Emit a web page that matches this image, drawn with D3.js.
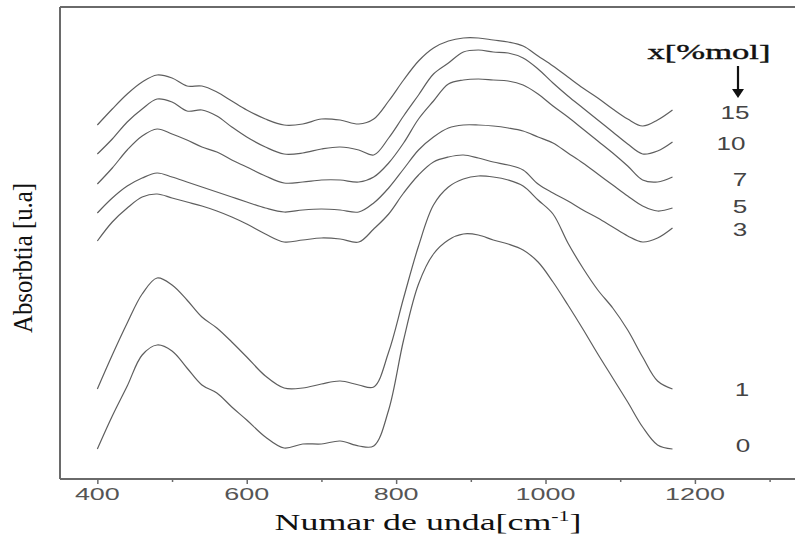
<!DOCTYPE html>
<html>
<head>
<meta charset="utf-8">
<script src="https://cdn.jsdelivr.net/npm/d3@7"></script>
<style>
html,body{margin:0;padding:0;background:#fff;}
svg{display:block;}
</style>
</head>
<body>
<svg id="chart" width="795" height="538"></svg>
<script>
// ---- data (absorbance, arbitrary units, offset-stacked as in the figure) ----
const wavenumbers = [400,420,440,460,480,500,520,540,560,580,600,625,650,675,700,725,750,770,790,810,830,850,870,890,910,930,950,970,990,1010,1030,1050,1070,1090,1110,1130,1150,1170];
const s15 = [354,370,385,397,404,401,393,393,387,378,369,360,354,355,360,359,355,360,378,399,418,431,438,441,441,439,437,433,423,413,402,391,381,370,360,353,359,369];
const s10 = [325,340,357,370,380,377,368,369,363,352,342,332,325,326,330,332,329,324,341,363,384,405,416,427,429,427,426,421,410,396,383,371,359,347,335,325,328,337];
const s7  = [295,311,329,343,350,345,339,332,327,319,312,303,296,297,299,299,297,302,316,336,360,378,395,399,400,399,398,394,385,373,362,350,338,326,313,299,297,302];
const s5  = [266,281,293,301,306,302,297,292,287,282,277,271,267,269,270,269,267,276,291,310,329,342,351,354,354,353,351,348,342,336,326,316,305,294,283,273,268,271];
const s3  = [238,257,271,282,285,281,277,273,268,262,255,245,237,239,241,240,237,250,265,286,304,317,322,324,321,317,314,309,295,286,278,269,261,252,243,237,241,251];
const s1  = [90,124,156,185,201,194,179,162,151,137,122,103,91,91,95,98,94,92,127,181,233,274,292,300,303,302,299,293,279,265,236,211,189,171,149,122,98,90];
const s0  = [30,63,93,124,134,128,111,94,86,72,59,42,31,35,35,38,33,33,69,139,195,225,239,245,244,239,235,229,217,197,174,150,125,101,77,52,34,30];
const seriesNames = ["15","10","7","5","3","1","0"];
const seriesValues = [s15,s10,s7,s5,s3,s1,s0];
const majorTicks = [400,600,800,1000,1200];
const minorTicks = [500,700,900,1100,1300];
const xTitle = "Numar de unda[cm";
const xTitleSup = "-1";
const yTitle = "Absorbtia [u.a]";
const legendTitle = "x[%mol]";

(function draw() {
  const svg = d3.select("#chart");
  const mL = 60, mR = 795, mT = 7, mB = 479;
  const x = d3.scaleLinear().domain([350, 1334]).range([mL, mR]);
  const y = d3.scaleLinear().domain([0, 472]).range([mB, mT]);
  const axisColor = "#6a6a6a";

  function stretch(sel, cx, cy, targetW) {
    sel.each(function() {
      const w = this.getComputedTextLength();
      const k = targetW / w;
      d3.select(this).attr("transform", `translate(${cx},${cy}) scale(${k},1)`);
    });
  }

  // frame
  svg.append("line").attr("x1", mL).attr("x2", mR).attr("y1", mT).attr("y2", mT)
    .attr("stroke", axisColor).attr("stroke-width", 2);
  svg.append("line").attr("x1", mL).attr("x2", mL).attr("y1", mT).attr("y2", mB)
    .attr("stroke", axisColor).attr("stroke-width", 2);
  svg.append("line").attr("x1", mL).attr("x2", mR).attr("y1", mB).attr("y2", mB)
    .attr("stroke", axisColor).attr("stroke-width", 2);

  // ticks
  const gMajor = svg.append("g").attr("transform", `translate(0,${mB})`)
    .call(d3.axisBottom(x).tickValues(majorTicks).tickSize(5).tickFormat(""));
  const gMinor = svg.append("g").attr("transform", `translate(0,${mB})`)
    .call(d3.axisBottom(x).tickValues(minorTicks).tickSize(3).tickFormat(""));
  [gMajor, gMinor].forEach(g => {
    g.select(".domain").remove();
    g.selectAll(".tick line").attr("stroke", axisColor).attr("stroke-width", 1.5);
  });

  // tick labels
  majorTicks.forEach(t => {
    const txt = svg.append("text").text(t)
      .attr("font-family", "Liberation Sans, Arial, sans-serif")
      .attr("font-size", 17).attr("fill", "#555").attr("text-anchor", "middle");
    stretch(txt, x(t), 500, String(t).length * 15);
  });

  // curves
  const line = d3.line()
    .x((d, i) => x(wavenumbers[i]))
    .y(d => y(d))
    .curve(d3.curveCatmullRom.alpha(0.5));
  svg.append("g").selectAll("path").data(seriesValues).join("path")
    .attr("d", line)
    .attr("fill", "none")
    .attr("stroke", "#5e5e5e")
    .attr("stroke-width", 1.2);

  // series labels
  const labelPos = {"15":[735,119],"10":[731,150],"7":[740,186],"5":[740,213],"3":[740,236],"1":[742,396],"0":[743,452]};
  seriesNames.forEach(n => {
    const txt = svg.append("text").text(n)
      .attr("font-family", "Liberation Sans, Arial, sans-serif")
      .attr("font-size", 18).attr("fill", "#444").attr("text-anchor", "middle");
    stretch(txt, labelPos[n][0], labelPos[n][1], n.length * 14.5);
  });

  // legend title + arrow
  const lt = svg.append("text").text(legendTitle)
    .attr("font-family", "Liberation Serif, Times New Roman, serif")
    .attr("font-size", 22).attr("fill", "#111").attr("text-anchor", "middle")
    .attr("stroke", "#111").attr("stroke-width", 0.4);
  stretch(lt, 709, 59, 123);
  svg.append("line").attr("x1", 738).attr("x2", 738).attr("y1", 66).attr("y2", 90)
    .attr("stroke", "#111").attr("stroke-width", 2.2);
  svg.append("path").attr("d", "M732,89 L744,89 L738,98 Z").attr("fill", "#111");

  // x title
  const xt = svg.append("text")
    .attr("font-family", "Liberation Serif, Times New Roman, serif")
    .attr("font-size", 23).attr("fill", "#111").attr("text-anchor", "middle");
  xt.append("tspan").text(xTitle);
  xt.append("tspan").text(xTitleSup).attr("font-size", 14).attr("dy", -9);
  xt.append("tspan").text("]").attr("dy", 9);
  stretch(xt, 428, 530, 307);

  // y title (rotated)
  const yt = svg.append("text").text(yTitle)
    .attr("font-family", "Liberation Serif, Times New Roman, serif")
    .attr("font-size", 22).attr("fill", "#111").attr("text-anchor", "middle");
  const w = yt.node().getComputedTextLength();
  yt.attr("font-size", 22 * 150 / w);
  yt.attr("transform", `translate(32,258) scale(1.1,1) rotate(-90)`);
})();
</script>
</body>
</html>
